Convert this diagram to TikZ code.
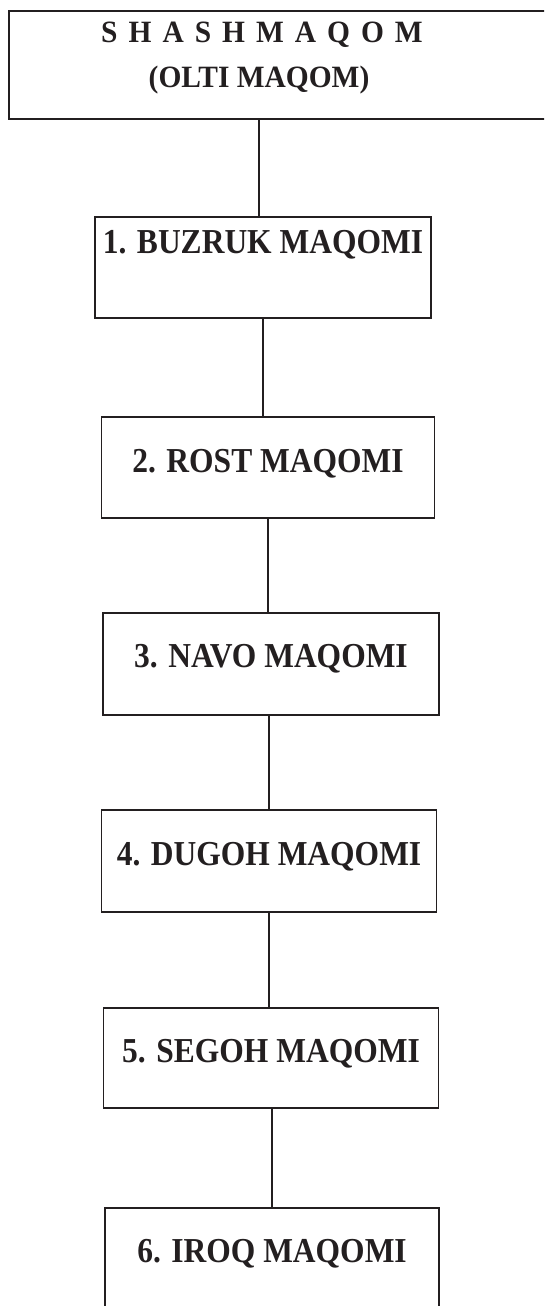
\documentclass[tikz,border=0pt]{standalone}
\usepackage{fontspec}
\setmainfont{Liberation Serif}
\newfontfamily\maqomfont[FakeStretch=0.9]{Liberation Serif}
\newfontfamily\titlefont[FakeStretch=0.95]{Liberation Serif}
\usepackage{xcolor}
\usepackage{tikz}
\usetikzlibrary{calc}
\definecolor{ink}{HTML}{231F20}

\begin{document}
\begin{tikzpicture}[x=1pt,y=-1pt,every node/.style={font=\bfseries,text=ink},
  maqom/.style={draw=ink,line width=1.3pt,anchor=base,inner xsep=0pt,inner ysep=0pt,
    minimum width=335pt,text height=54pt,text depth=46pt,font=\maqomfont\fontsize{35}{40}\selectfont\bfseries},
  heading/.style={anchor=base,inner sep=0pt,font=\titlefont\fontsize{31}{36}\selectfont\bfseries},
  link/.style={draw=ink,line width=1.5pt}]

\useasboundingbox (0,0) rectangle (544,1306);
\clip (0,0) rectangle (544,1306);

% title box
\draw (8,10) node (top) [draw=ink,line width=1.6pt,anchor=north west,minimum width=545pt,minimum height=108pt,inner sep=0pt] {};
\draw (262,43) node (title) [heading] {{\spaceskip=11pt S H A S H M A Q O M}};
\draw (259,87) node (subtitle) [heading] {(OLTI MAQOM)};

% the six maqoms
\draw (263,253) node (b1) [maqom,text height=36pt,text depth=65pt,minimum width=336pt] {1. BUZRUK MAQOMI};
\draw (268,472) node (b2) [maqom,text height=55pt,text depth=46pt,minimum width=333pt] {2. ROST MAQOMI};
\draw (271,667) node (b3) [maqom,text height=54pt,text depth=48pt,minimum width=336pt] {3. NAVO MAQOMI};
\draw (269,865) node (b4) [maqom,text height=55pt,text depth=47pt] {4. DUGOH MAQOMI};
\draw (271,1062) node (b5) [maqom,text height=54pt,text depth=46pt] {5. SEGOH MAQOMI};
\draw (272,1262) node (b6) [maqom,text height=54pt,text depth=60pt,minimum width=334pt] {6. IROQ MAQOMI};

% connectors
\draw[link] (top.south -| subtitle) -- (b1.north -| subtitle);
\draw[link] (b1.south) -- (b2.north -| b1.south);
\draw[link] (b2.south) -- (b3.north -| b2.south);
\draw[link] (b3.south -| b4.north) -- (b4.north);
\draw[link] (b4.south) -- (b5.north -| b4.south);
\draw[link] (b5.south -| b6.north) -- (b6.north);
\end{tikzpicture}
\end{document}
